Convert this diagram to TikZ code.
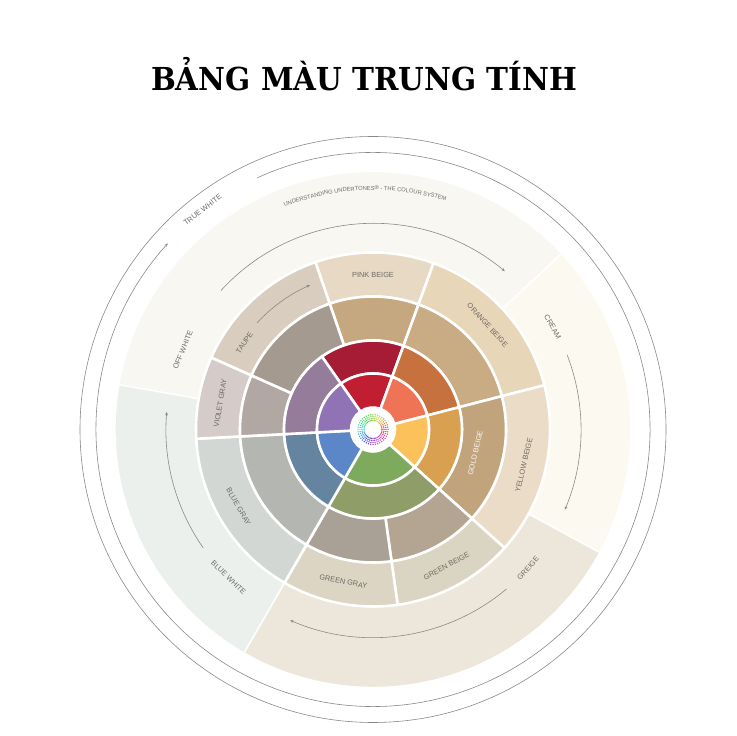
\documentclass[tikz,border=0pt]{standalone}
\usepackage{fontspec}
\setsansfont{Liberation Sans}
\newfontfamily\titlefont{DejaVu Serif}
\usetikzlibrary{arrows.meta, decorations.text}
\definecolor{labelgray}{RGB}{110,106,102}
\definecolor{linegray}{RGB}{138,135,132}
% outer families
\definecolor{offwhite}{HTML}{F8F7F1}
\definecolor{cream}{HTML}{FCFAF0}
\definecolor{greige}{HTML}{EDE7DB}
\definecolor{bluewhite}{HTML}{EBF0EC}
% beige ring
\definecolor{pinkbeige}{HTML}{E7D9C4}
\definecolor{orangebeige}{HTML}{E8D6B9}
\definecolor{yellowbeige}{HTML}{EADCC6}
\definecolor{greenbeige}{HTML}{DAD5C2}
\definecolor{greengray}{HTML}{DCD5C3}
\definecolor{bluegray}{HTML}{D2D7D3}
\definecolor{violetgray}{HTML}{D5CBC8}
\definecolor{taupe}{HTML}{D8CDBF}
% middle ring
\definecolor{pinkmid}{HTML}{C5A880}
\definecolor{orangemid}{HTML}{C9AC84}
\definecolor{goldmid}{HTML}{C2A47C}
\definecolor{greenbeigemid}{HTML}{B4A593}
\definecolor{greengraymid}{HTML}{A9A196}
\definecolor{bluegraymid}{HTML}{B4B6B1}
\definecolor{violetmid}{HTML}{B2A8A3}
\definecolor{taupemid}{HTML}{A49A8F}
% saturated ring
\definecolor{redsat}{HTML}{A51C34}
\definecolor{orangesat}{HTML}{C7713F}
\definecolor{goldsat}{HTML}{D8A050}
\definecolor{greensat}{HTML}{8F9E69}
\definecolor{bluesat}{HTML}{65849F}
\definecolor{violetsat}{HTML}{957C9B}
% bright ring
\definecolor{redbright}{HTML}{C11E31}
\definecolor{orangebright}{HTML}{EF7355}
\definecolor{yellowbright}{HTML}{FBC25C}
\definecolor{greenbright}{HTML}{7DAA5C}
\definecolor{bluebright}{HTML}{5B86C7}
\definecolor{violetbright}{HTML}{9073B5}

\begin{document}
\begin{tikzpicture}[
    x=0.03cm, y=0.03cm,
    cell/.style={draw=white, line width=2.2pt},
    ringlabel/.style={font=\sffamily\fontsize{6.3}{7}\selectfont, text=labelgray, inner sep=0pt},
    guide/.style={draw=linegray, line width=0.5pt, -{Stealth[length=3pt, width=2.4pt]}},
]
    % Canvas
    \fill[white] (-373,-306.5) rectangle (363,429.5);
    \useasboundingbox (-373,-306.5) rectangle (363,429.5);

    % Title
    \node[font=\titlefont\bfseries\fontsize{27}{30}\selectfont, xscale=0.93] (title) at (-9,355) {BẢNG MÀU TRUNG TÍNH};

    % Outer circles
    \draw[linegray, line width=0.5pt] (0,0) circle[radius=293];
    \draw[guide] (114.7:277) arc[start angle=114.7, end angle=-222.2, radius=277];

    % Undertone families
    \foreach \col/\sa/\ea in {offwhite/170/43, cream/43/-28.5, greige/-28.5/-120, bluewhite/240/170}
        \path[cell, line width=1.2pt, fill=\col] (\sa:177) arc[start angle=\sa, end angle=\ea, radius=177]
            -- (\ea:258) arc[start angle=\ea, end angle=\sa, radius=258] -- cycle;

    % Beige ring
    \foreach \col/\sa/\ea in {pinkbeige/109/70, orangebeige/70/14.5, yellowbeige/14.5/-42, greenbeige/-42/-82,
                              greengray/-82/-120, bluegray/240/183, violetgray/183/156, taupe/156/109}
        \path[cell, fill=\col] (\sa:133) arc[start angle=\sa, end angle=\ea, radius=133]
            -- (\ea:177) arc[start angle=\ea, end angle=\sa, radius=177] -- cycle;

    % Middle ring
    \foreach \col/\sa/\ea in {pinkmid/109/70, orangemid/70/14.5, goldmid/14.5/-42, greenbeigemid/-42/-82,
                              greengraymid/-82/-120, bluegraymid/240/183, violetmid/183/156, taupemid/156/109}
        \path[cell, fill=\col] (\sa:89) arc[start angle=\sa, end angle=\ea, radius=89]
            -- (\ea:133) arc[start angle=\ea, end angle=\sa, radius=133] -- cycle;

    % Saturated ring
    \foreach \col/\sa/\ea in {redsat/125/70, orangesat/70/14.5, goldsat/14.5/-42, greensat/-42/-120,
                              bluesat/240/183, violetsat/183/125}
        \path[cell, fill=\col] (\sa:56) arc[start angle=\sa, end angle=\ea, radius=56]
            -- (\ea:89) arc[start angle=\ea, end angle=\sa, radius=89] -- cycle;

    % Bright ring
    \foreach \col/\sa/\ea in {redbright/125/70, orangebright/70/14.5, yellowbright/14.5/-42, greenbright/-42/-120,
                              bluebright/240/183, violetbright/183/125}
        \path[cell, fill=\col] (\sa:22) arc[start angle=\sa, end angle=\ea, radius=22]
            -- (\ea:56) arc[start angle=\ea, end angle=\sa, radius=56] -- cycle;

    % Centre dots
    \fill[white] (0,0) circle[radius=22];
    \foreach \k in {0,...,39} {
        \pgfmathsetmacro\hh{\k/40}
        \definecolor{dotc}{hsb}{\hh,0.7,0.85}
        \foreach \rr in {9,11,13,15}
            \fill[dotc] (\k*9:\rr) circle[radius=0.75];
    }

    % Direction guides
    \draw[guide] (137.4:157.5) arc[start angle=137.4, end angle=113.6, radius=157.5];
    \draw[guide] (137.6:206) arc[start angle=137.6, end angle=50.2, radius=206];
    \draw[guide] (21:208) arc[start angle=21, end angle=-22.7, radius=208];
    \draw[guide] (-50.1:208) arc[start angle=-50.1, end angle=-113.5, radius=208];
    \draw[guide] (214.9:207) arc[start angle=214.9, end angle=175.1, radius=207];

    % Curved heading
    \path[decorate, decoration={text along path, text align=center, text color=labelgray,
        text={|\sffamily\fontsize{4.9}{6}\selectfont|UNDERSTANDING UNDERTONES® - THE COLOUR SYSTEM}}]
        (132:239.5) arc[start angle=132, end angle=52, radius=239.5];

    % Beige ring labels
    \node[ringlabel] (pinkbeigelbl) at (90:155) {PINK BEIGE};
    \node[ringlabel, rotate=-47.7] (orangebeigelbl) at (42.3:155) {ORANGE BEIGE};
    \node[ringlabel, rotate=76.7] (yellowbeigelbl) at (-13.3:155) {YELLOW BEIGE};
    \node[ringlabel, rotate=28.3] (greenbeigelbl) at (-61.7:155) {GREEN BEIGE};
    \node[ringlabel, rotate=-11] (greengraylbl) at (-101:155) {GREEN GRAY};
    \node[ringlabel, rotate=-60.1] (bluegraylbl) at (209.9:155) {BLUE GRAY};
    \node[ringlabel, rotate=80.3] (violetgraylbl) at (170.3:155) {VIOLET GRAY};
    \node[ringlabel, rotate=56] (taupelbl) at (146:155) {TAUPE};
    \node[ringlabel, text=white!92!goldmid, rotate=77] (goldbeigelbl) at (-13:105) {GOLD BEIGE};

    % Family labels
    \node[ringlabel, rotate=67.3] (offwhitelbl) at (157.3:206) {OFF WHITE};
    \node[ringlabel, rotate=-60.3] (creamlbl) at (29.7:207) {CREAM};
    \node[ringlabel, rotate=48.2] (greigelbl) at (-41.8:208) {GREIGE};
    \node[ringlabel, rotate=-44.3] (bluewhitelbl) at (225.7:207) {BLUE WHITE};
    \node[ringlabel, rotate=37.8] (truewhitelbl) at (127.8:278) {TRUE WHITE};
\end{tikzpicture}
\end{document}
